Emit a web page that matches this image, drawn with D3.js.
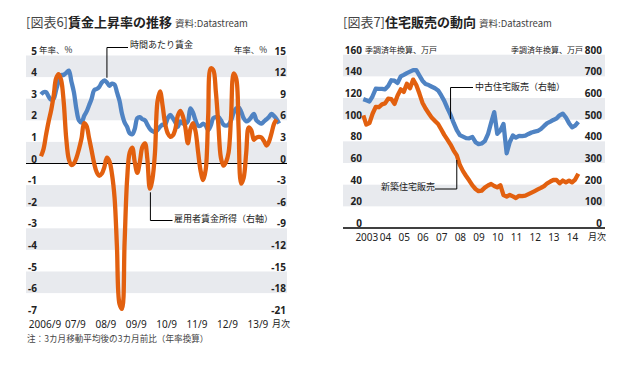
<!DOCTYPE html>
<html><head><meta charset="utf-8">
<script src="https://cdn.jsdelivr.net/npm/d3@7"></script>
<style>
body{margin:0;background:#fff}
svg{display:block}
text{font-family:"Noto Sans CJK JP","Noto Sans",sans-serif}
</style>
</head><body>
<svg id="c" width="624" height="367"></svg>
<script>
// ---------- Chart 6 data: wage growth (monthly from 2006/9) ----------
const wageStart = "2006-09-01";
const hourlyWage = [3.2,3.3,3.3,3.1,2.95,3.0,3.4,3.8,4.1,4.1,
  4.2,4.3,3.8,3.3,2.5,2.0,1.9,2.2,2.4,2.7,
  3.0,3.4,3.45,3.55,3.75,3.85,3.75,3.6,3.7,3.65,
  3.3,2.9,2.3,1.9,1.7,1.4,1.35,1.6,2.1,2.15,
  2.05,2.0,1.8,1.6,1.5,1.45,1.55,1.7,1.8,1.8,
  2.1,2.25,2.1,1.9,1.7,1.95,1.85,1.85,1.95,2.55,
  2.35,2.0,1.75,1.75,1.85,1.75,1.55,1.75,2.1,2.15,
  2.15,2.0,1.8,1.75,1.8,2.0,2.35,2.55,2.6,2.4,
  2.1,1.95,2.0,2.15,2.3,2.0,1.9,1.85,1.95,2.05,
  2.15,2.3,2.2,2.05,1.85];
const employeeIncome = [1.0,2.0,4.0,5.8,7.4,9.5,11.8,12.4,11.6,8.5,
  3.5,0.6,-0.2,0,0.8,2.0,3.5,5.6,5.2,3.5,
  1.8,0,-1.2,-1.7,-1.4,-0.5,0.8,0.3,-1.5,-4.8,
  -11.5,-19.5,-20.2,-11,-2.3,1.5,2.2,0.2,-1.3,0.2,
  2.3,2.8,0.7,-3.5,-2.2,1.5,8.6,10.0,8.0,5.5,
  4.2,3.7,3.9,4.8,6.6,7.3,6.6,5.0,2.8,4.8,
  5.6,4.5,1.6,-1.0,-2.3,-0.8,6.5,13.2,13.0,10.0,
  5.5,0.8,-0.3,0.2,1.5,6.5,12.5,11.8,5.0,-2.8,
  -2.0,1.5,5.0,4.6,3.3,3.6,3.7,3.6,3.1,2.5,
  3.0,4.2,5.5,6.1];
const wageTicksLeft = [5,4,3,2,1,0,-1,-2,-3,-4,-5,-6,-7];
const wageTicksRight = [15,12,9,6,3,0,-3,-6,-9,-12,-15,-18,-21];
const wageXLabels = ["2006/9","07/9","08/9","09/9","10/9","11/9","12/9","13/9"];

// ---------- Chart 7 data: housing sales (every 2 months from 2003/1) ----------
const housingStart = "2003-01-01";
const newHomeSales = [104,95.5,96.8,105.5,111.9,111.5,114.2,115,119.5,119,
  114.6,122.3,128,125.7,133.1,129.1,137,132,124.1,115.7,
  110.3,106,101.7,98.8,96,91.2,86,81.6,77,71.5,
  67,58.1,52.5,48,43.8,39.3,36,34,34.5,37.3,
  39.2,40.6,38.8,37.5,39.5,30.4,29,30.5,29.2,27.7,
  29.7,29.5,29.9,31.3,32.7,34.1,35.6,37,38.7,41.3,
  42.9,44.3,44.3,41.3,43.8,42.2,43.8,42.1,44.7,50];
const existingHomeSales = [595,590,584,608,643,642,642,640,655,682,
  680,670,700,707,715,722,729,729,704,680,
  665,660,652,645,635,613,587,553,522,485,
  452,429,422,415,414,420,396,387,390,401,
  433,486,535,435,450,480,345,397,427,417,
  425,424,426,434,441,445,448,457,471,484,
  491,499,505,520,528,510,484,465,473,490];
const housingTicksLeft = [160,140,120,100,80,60,40,20,0];
const housingTicksRight = [800,700,600,500,400,300,200,100,0];
const housingYears = ["2003","04","05","06","07","08","09","10","11","12","13","14"];

// ---------- styles ----------
const BLUE = "#4f83c3", ORANGE = "#e2600f", BAND = "#e8eaee", TXT = "#222";
const NUMFONT = '"Noto Sans","Open Sans",sans-serif';
const svg = d3.select("#c");
const parse = d3.timeParse("%Y-%m-%d");

function styleTicks(sel, size, weight){
  sel.select(".domain").remove();
  sel.selectAll("text").attr("fill", TXT).style("font-size", size+"px")
     .style("font-weight", weight).style("font-family", NUMFONT);
}

// ===================== Chart 6 =====================
(function(){
  const t0 = parse(wageStart);
  const dates = hourlyWage.map((_, i) => d3.timeMonth.offset(t0, i));
  const x = d3.scaleTime().domain([t0, d3.timeMonth.offset(t0, 94)]).range([41, 279.1]);
  const yL = d3.scaleLinear().domain([-7, 5]).range([314.7, 55.5]);
  const yR = d3.scaleLinear().domain([-21, 15]).range([314.7, 55.5]);
  const X0 = 26, X1 = 287;

  // title
  const tt = svg.append("text").attr("x", 26).attr("y", 27).style("font-size", "13px");
  tt.append("tspan").attr("fill", "#444").text("[図表6]");
  tt.append("tspan").attr("fill", TXT).style("font-weight", "bold").text("賃金上昇率の推移");
  tt.append("tspan").attr("fill", "#444").attr("dx", 3).style("font-size", "9.5px").text("資料:Datastream");

  // bands
  const bands = [[4,5],[2,3],[0,1],[-2,-1],[-4,-3],[-6,-5]];
  svg.append("g").selectAll("rect").data(bands).join("rect")
    .attr("x", X0).attr("width", X1 - X0)
    .attr("y", d => yL(d[1])).attr("height", d => yL(d[0]) - yL(d[1]))
    .attr("fill", BAND);

  // zero line
  svg.append("line").attr("x1", X0).attr("x2", X1).attr("y1", yL(0)).attr("y2", yL(0))
    .attr("stroke", "#000").attr("stroke-width", 1.1);

  // axes
  svg.append("g").attr("transform", "translate(37,0)")
    .call(d3.axisLeft(yL).tickValues(wageTicksLeft).tickSize(0).tickPadding(0).tickFormat(d => String(d)))
    .call(g => styleTicks(g, 10, "bold"))
    .call(g => g.selectAll("text").attr("y", -5).attr("dy", "0.35em"));
  svg.append("g").attr("transform", "translate(286,0)")
    .call(d3.axisLeft(yR).tickValues(wageTicksRight).tickSize(0).tickPadding(0).tickFormat(d => String(d)))
    .call(g => styleTicks(g, 10, "bold"))
    .call(g => g.selectAll("text").attr("y", -5).attr("dy", "0.35em"));
  const xt = wageXLabels.map((_, i) => d3.timeMonth.offset(t0, 12 * i));
  svg.append("g").attr("transform", "translate(3.5,324)")
    .call(d3.axisBottom(x).tickValues(xt).tickSize(0).tickPadding(0).tickFormat((d, i) => wageXLabels[i]))
    .call(g => styleTicks(g, 10, "normal"))
    .call(g => g.selectAll("text").attr("y", 0).attr("dy", "0.35em"));
  svg.append("text").attr("x", 272).attr("y", 324).attr("dy", "0.35em").attr("fill", TXT)
    .style("font-size", "9px").text("月次");

  // unit labels
  svg.append("text").attr("x", 39).attr("y", yL(5) - 5).attr("dy", "0.35em").attr("fill", TXT)
    .style("font-size", "8.5px").text("年率、%");
  svg.append("text").attr("x", 267).attr("y", yR(15) - 5).attr("dy", "0.35em").attr("text-anchor", "end")
    .attr("fill", TXT).style("font-size", "8.5px").text("年率、%");

  // lines
  const lineL = d3.line().x((d, i) => x(dates[i])).y(d => yL(d)).curve(d3.curveCatmullRom.alpha(0.5));
  const dates2 = employeeIncome.map((_, i) => d3.timeMonth.offset(t0, i));
  const lineR = d3.line().x((d, i) => x(dates2[i])).y(d => yR(d)).curve(d3.curveCatmullRom.alpha(0.5));
  svg.append("path").datum(hourlyWage).attr("d", lineL).attr("fill", "none")
    .attr("stroke", BLUE).attr("stroke-width", 4.3).attr("stroke-linejoin", "round");
  svg.append("path").datum(employeeIncome).attr("d", lineR).attr("fill", "none")
    .attr("stroke", ORANGE).attr("stroke-width", 4.3).attr("stroke-linejoin", "round");

  // annotations
  const ax1 = x(d3.timeMonth.offset(t0, 26));
  svg.append("path").attr("d", `M${ax1},${yL(3.97)}V47.5H128`).attr("fill", "none")
    .attr("stroke", "#000").attr("stroke-width", 1);
  svg.append("text").attr("x", 130).attr("y", 45).attr("dy", "0.35em").attr("fill", TXT)
    .style("font-size", "9px").text("時間あたり賃金");
  const ax2 = x(d3.timeMonth.offset(t0, 43)) + 0.5;
  svg.append("path").attr("d", `M${ax2},${yR(-4)}V220.5H172.5`).attr("fill", "none")
    .attr("stroke", "#000").attr("stroke-width", 1);
  svg.append("text").attr("x", 174).attr("y", 219).attr("dy", "0.35em").attr("fill", TXT)
    .style("font-size", "9px").text("雇用者賃金所得（右軸）");

  // note
  svg.append("text").attr("x", 27).attr("y", 339).attr("dy", "0.35em").attr("fill", "#444")
    .style("font-size", "8.6px").text("注：3カ月移動平均後の3カ月前比（年率換算）");
})();

// ===================== Chart 7 =====================
(function(){
  const t0 = parse(housingStart);
  const dates = newHomeSales.map((_, i) => d3.timeMonth.offset(t0, 2 * i));
  const x = d3.scaleTime().domain([t0, d3.timeMonth.offset(t0, 138)]).range([363.3, 578.3]);
  const yL = d3.scaleLinear().domain([0, 160]).range([228, 54.7]);
  const yR = d3.scaleLinear().domain([0, 800]).range([228, 54.7]);
  const X0 = 343, X1 = 605;

  const tt = svg.append("text").attr("x", 343).attr("y", 27).style("font-size", "13px");
  tt.append("tspan").attr("fill", "#444").text("[図表7]");
  tt.append("tspan").attr("fill", TXT).style("font-weight", "bold").text("住宅販売の動向");
  tt.append("tspan").attr("fill", "#444").attr("dx", 3).style("font-size", "9.5px").text("資料:Datastream");

  const bands = [[20,40],[60,80],[100,120],[140,160]];
  svg.append("g").selectAll("rect").data(bands).join("rect")
    .attr("x", X0).attr("width", X1 - X0)
    .attr("y", d => yL(d[1])).attr("height", d => yL(d[0]) - yL(d[1]))
    .attr("fill", BAND);
  svg.append("line").attr("x1", X0).attr("x2", X1).attr("y1", yL(0)).attr("y2", yL(0))
    .attr("stroke", "#000").attr("stroke-width", 1.3);

  svg.append("g").attr("transform", "translate(362,0)")
    .call(d3.axisLeft(yL).tickValues(housingTicksLeft).tickSize(0).tickPadding(0).tickFormat(d => String(d)))
    .call(g => styleTicks(g, 10, "bold"))
    .call(g => g.selectAll("text").attr("y", -5).attr("dy", "0.35em"));
  svg.append("g").attr("transform", "translate(602,0)")
    .call(d3.axisLeft(yR).tickValues(housingTicksRight).tickSize(0).tickPadding(0).tickFormat(d => String(d)))
    .call(g => styleTicks(g, 10, "bold"))
    .call(g => g.selectAll("text").attr("y", -5).attr("dy", "0.35em"));
  const xt = housingYears.map((_, i) => d3.timeMonth.offset(t0, 12 * i + 2));
  svg.append("g").attr("transform", "translate(0,237)")
    .call(d3.axisBottom(x).tickValues(xt).tickSize(0).tickPadding(0).tickFormat((d, i) => housingYears[i]))
    .call(g => styleTicks(g, 10, "normal"))
    .call(g => g.selectAll("text").attr("y", 0).attr("dy", "0.35em"));
  svg.append("text").attr("x", 588).attr("y", 237).attr("dy", "0.35em").attr("fill", TXT)
    .style("font-size", "9px").text("月次");

  svg.append("text").attr("x", 365).attr("y", yL(160) - 5).attr("dy", "0.35em").attr("fill", TXT)
    .style("font-size", "8px").text("季調済年換算、万戸");
  svg.append("text").attr("x", 583).attr("y", yR(800) - 5).attr("dy", "0.35em").attr("text-anchor", "end")
    .attr("fill", TXT).style("font-size", "8px").text("季調済年換算、万戸");

  const lineL = d3.line().x((d, i) => x(dates[i])).y(d => yL(d));
  const lineR = d3.line().x((d, i) => x(dates[i])).y(d => yR(d));
  svg.append("path").datum(existingHomeSales).attr("d", lineR).attr("fill", "none")
    .attr("stroke", BLUE).attr("stroke-width", 4.3).attr("stroke-linejoin", "round");
  svg.append("path").datum(newHomeSales).attr("d", lineL).attr("fill", "none")
    .attr("stroke", ORANGE).attr("stroke-width", 4.3).attr("stroke-linejoin", "round");

  const bx = x(d3.timeMonth.offset(t0, 56));
  svg.append("path").attr("d", `M${bx},119V87.5H473`).attr("fill", "none").attr("stroke", "#000").attr("stroke-width", 1);
  svg.append("text").attr("x", 475).attr("y", 87).attr("dy", "0.35em").attr("fill", TXT)
    .style("font-size", "9px").text("中古住宅販売（右軸）");
  const ox = x(d3.timeMonth.offset(t0, 60));
  svg.append("path").attr("d", `M${ox},160V189H435`).attr("fill", "none").attr("stroke", "#000").attr("stroke-width", 1);
  svg.append("text").attr("x", 435).attr("y", 187).attr("dy", "0.35em").attr("text-anchor", "end").attr("fill", TXT)
    .style("font-size", "9px").text("新築住宅販売");
})();
</script>
</body></html>
